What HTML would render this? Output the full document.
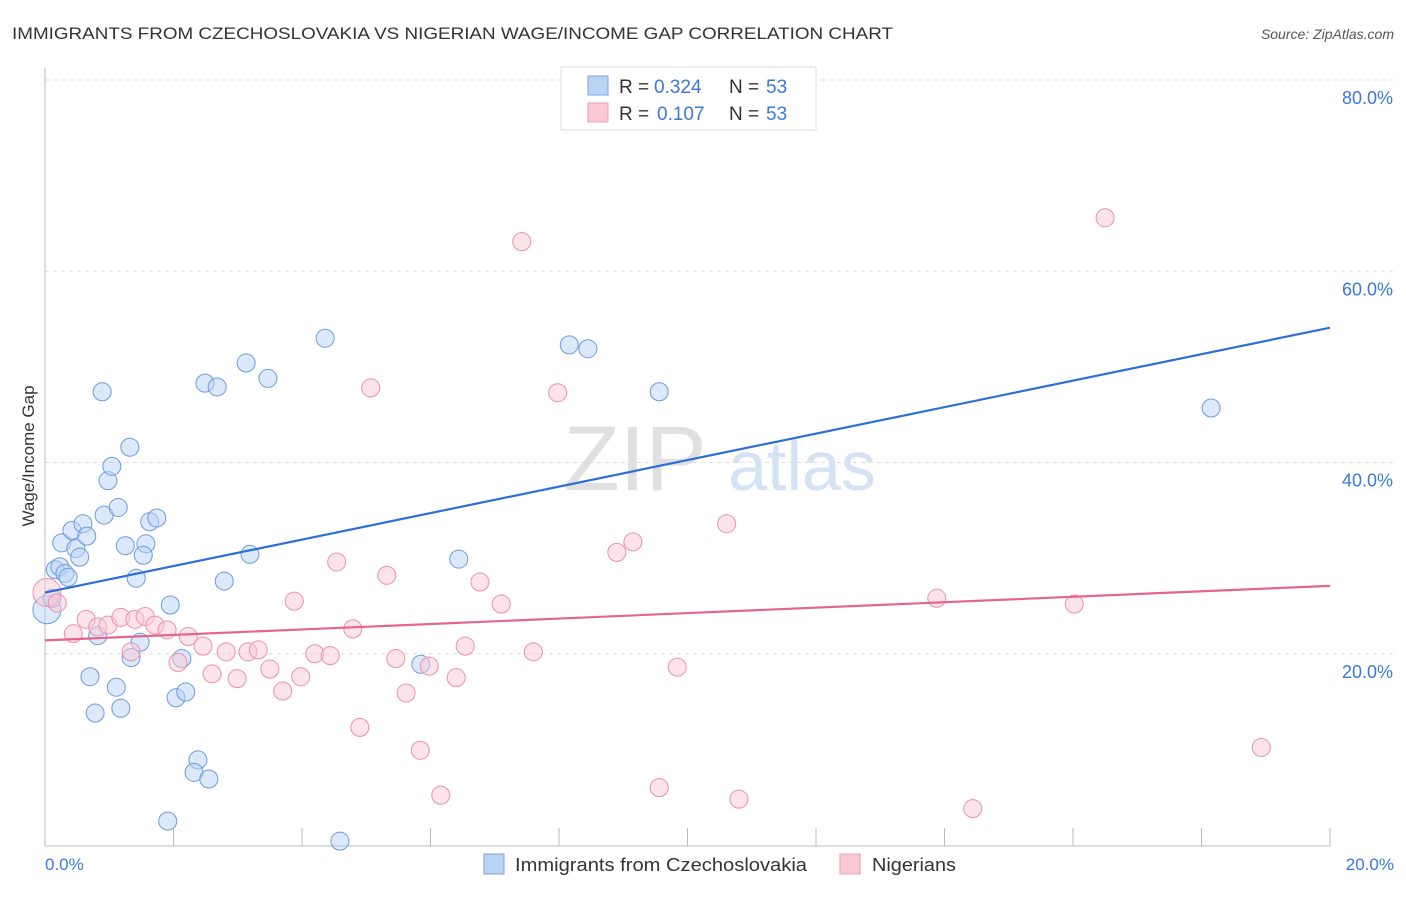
<!DOCTYPE html>
<html><head><meta charset="utf-8"><style>
body{margin:0;background:#fff;font-family:"Liberation Sans",sans-serif;}
svg text{font-family:"Liberation Sans",sans-serif;}
</style></head><body>
<svg id="chart" width="1406" height="892">
<text x="12" y="39" font-size="17" fill="#333" textLength="881" lengthAdjust="spacingAndGlyphs">IMMIGRANTS FROM CZECHOSLOVAKIA VS NIGERIAN WAGE/INCOME GAP CORRELATION CHART</text>
<text x="1394" y="39" font-size="14" fill="#555" font-style="italic" text-anchor="end">Source: ZipAtlas.com</text>
<g id="grid"></g>
<text x="635" y="490" font-size="92" fill="#e0e0e0" font-family="Liberation Serif" text-anchor="middle">ZIP</text>
<text x="802" y="490" font-size="70" fill="#d3e2f5" text-anchor="middle">atlas</text>
<line x1="45" y1="68" x2="45" y2="846" stroke="#bbb"/>
<line x1="45" y1="846" x2="1330" y2="846" stroke="#bbb"/>
<text x="34" y="456" font-size="17" fill="#333" text-anchor="middle" transform="rotate(-90 34 456)">Wage/Income Gap</text>
<g id="points"></g>
<g id="lines"></g>
<g id="ylabels"></g>
<text x="45" y="870" font-size="17" fill="#3b78d8">0.0%</text>
<text x="1394" y="870" font-size="17" fill="#3b78d8" text-anchor="end">20.0%</text>
<g>
<rect x="561" y="67" width="255" height="63" fill="#fff" stroke="#ddd"/>
<rect x="588" y="76" width="20" height="19" fill="#b9d3f5" stroke="#7aa6e0"/>
<rect x="588" y="103" width="20" height="19" fill="#f9c9d6" stroke="#ee9bb2"/>
<text x="619" y="93" font-size="19" fill="#333">R =</text><text x="654" y="93" font-size="19" fill="#3b78d8">0.324</text>
<text x="729" y="93" font-size="19" fill="#333">N =</text><text x="766" y="93" font-size="19" fill="#3b78d8">53</text>
<text x="619" y="120" font-size="19" fill="#333">R =</text><text x="657" y="120" font-size="19" fill="#3b78d8">0.107</text>
<text x="729" y="120" font-size="19" fill="#333">N =</text><text x="766" y="120" font-size="19" fill="#3b78d8">53</text>
</g>
<g>
<rect x="484" y="854" width="20" height="20" fill="#b9d3f5" stroke="#7aa6e0"/>
<text x="515" y="871" font-size="18" fill="#333" textLength="292" lengthAdjust="spacingAndGlyphs">Immigrants from Czechoslovakia</text>
<rect x="840" y="854" width="20" height="20" fill="#f9c9d6" stroke="#ee9bb2"/>
<text x="872" y="871" font-size="18" fill="#333" textLength="84" lengthAdjust="spacingAndGlyphs">Nigerians</text>
</g>
</svg>
<script>
const yTicks=[20,40,60,80];
const xTickVals=[2,4,6,8,10,12,14,16,18,20];
const blueX=[0.03,0.11,0.16,0.23,0.31,0.36,0.26,0.42,0.48,0.54,0.59,0.65,0.89,0.92,0.98,1.04,1.14,1.25,1.32,1.42,1.48,1.57,1.53,1.34,1.63,1.74,1.95,2.13,2.04,2.19,0.70,0.78,1.11,1.18,0.82,2.49,2.68,2.79,3.13,3.19,3.47,4.36,2.38,2.32,2.55,1.91,4.59,5.85,6.44,8.16,8.45,9.56,18.15];
const blueY=[24.6,25.8,28.8,29.1,28.4,28.0,31.6,32.9,31.0,30.1,33.6,32.3,47.4,34.5,38.1,39.6,35.3,31.3,41.6,27.9,21.2,31.5,30.3,19.6,33.8,34.2,25.1,19.5,15.4,16.0,17.6,13.8,16.5,14.3,21.9,48.3,47.9,27.6,50.4,30.4,48.8,53.0,8.9,7.6,6.9,2.5,0.4,18.9,29.9,52.3,51.9,47.4,45.7];
const pinkX=[0.03,0.19,0.44,0.64,0.82,0.98,1.18,1.40,1.56,1.34,1.71,1.90,2.07,2.23,2.46,2.60,2.82,2.99,3.16,3.32,3.50,3.70,3.88,3.98,4.20,4.44,4.54,4.79,4.90,5.32,5.46,5.62,5.84,5.98,6.16,6.40,6.54,6.77,7.10,7.42,7.60,5.07,7.98,8.90,9.15,9.56,9.84,10.61,10.80,13.88,14.44,16.02,16.50,18.93];
const pinkY=[26.4,25.3,22.1,23.6,22.8,23.0,23.8,23.6,23.9,20.2,23.0,22.5,19.1,21.8,20.8,17.9,20.2,17.4,20.2,20.4,18.4,16.1,25.5,17.6,20.0,19.8,29.6,22.6,12.3,28.2,19.5,15.9,9.9,18.7,5.2,17.5,20.8,27.5,25.2,63.1,20.2,47.8,47.3,30.6,31.7,6.0,18.6,33.6,4.8,25.8,3.8,25.2,65.6,10.2];
const blueTrend=[26.4,54.1];
const pinkTrend=[21.4,27.1];
const NS="http://www.w3.org/2000/svg";
const X=v=>45+v/20*1285;
const Y=v=>845-v/80*765;
function mk(t,a,p){const e=document.createElementNS(NS,t);for(const k in a)e.setAttribute(k,a[k]);p.appendChild(e);return e;}
const grid=document.getElementById('grid');
yTicks.forEach(t=>{const l=mk('line',{x1:45,x2:1394,y1:Y(t),y2:Y(t),stroke:'#ddd','stroke-dasharray':'4 4'},grid);


const tx=mk('text',{x:1393,y:Y(t)+24,'font-size':18,fill:'#3b78d8','text-anchor':'end'},document.getElementById('ylabels'));tx.textContent=t.toFixed(1)+'%';

});
xTickVals.forEach(t=>{const l=mk('line',{x1:X(t),x2:X(t),y1:828,y2:846,stroke:'#bbb'},grid);

});
const pts=document.getElementById('points');
function series(xs,ys,fill,stroke,name){xs.forEach((x,i)=>{const c=mk('circle',{cx:X(x),cy:Y(ys[i]),r:i==0?14:9,fill:fill,'fill-opacity':0.5,stroke:stroke,'stroke-width':1},pts);

});}
series(blueX,blueY,'#b9d3f5','#6b9be0','czechoslovakia');
series(pinkX,pinkY,'#f9c9d6','#ee8fab','nigerian');
const lg=document.getElementById('lines');
const bl=mk('line',{x1:X(0),y1:Y(blueTrend[0]),x2:X(20),y2:Y(blueTrend[1]),stroke:'#2c6fd6','stroke-width':2.2},lg);


const pl=mk('line',{x1:X(0),y1:Y(pinkTrend[0]),x2:X(20),y2:Y(pinkTrend[1]),stroke:'#e5658e','stroke-width':2.2},lg);


</script>
</body></html>
